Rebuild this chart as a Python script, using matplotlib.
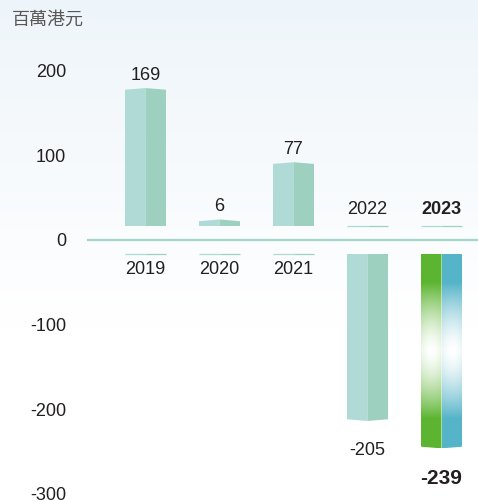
import numpy as np
import matplotlib.pyplot as plt
from matplotlib.patches import Polygon
from matplotlib.colors import to_rgb

# data
years = ['2019', '2020', '2021', '2022', '2023']
values = [169, 6, 77, -205, -239]
y_ticks = [200, 100, 0, -100, -200, -300]
unit = '百萬港元'

plt.rcParams['font.family'] = ['Liberation Sans', 'Noto Sans CJK TC', 'DejaVu Sans']

W, H = 478, 501
fig = plt.figure(figsize=(W / 100, H / 100), dpi=100)

# faint background wash
bg = fig.add_axes([0, 0, 1, 1])
t = np.linspace(0, 1, 200)[:, None]
top_c = np.array(to_rgb('#eef5fa'))
k = np.clip(t / 0.65, 0, 1)
grad = top_c * (1 - k[..., None]) + np.ones(3) * k[..., None]
bg.imshow(grad, aspect='auto', extent=[0, 1, 0, 1])
bg.set_axis_off()

px = 0.846          # pixels per unit on the axis
zero_px = 240
left_px = 87
ax = fig.add_axes([left_px / W, 0, 1 - left_px / W, 1])
ax.patch.set_alpha(0)
ax.set_ylim(-(H - zero_px) / px, zero_px / px)
step = 74
ax.set_xlim((left_px - 145.5) / step, (W - 145.5) / step)
for s in ax.spines.values():
    s.set_visible(False)
ax.set_xticks([])
ax.set_yticks(y_ticks)
ax.set_yticklabels([str(v) for v in y_ticks])
ax.tick_params(axis='y', length=0, pad=15, labelsize=13, labelcolor='#231f20')

ax.axhline(0, color='#a0d6c6', lw=1.6, zorder=2)

c_left, c_right = '#b0dad5', '#9dd0be'
w = 41 / step
off = 14 / px        # gap between zero line and bar base
scale = 0.953        # bar height per unit relative to axis
peak = 1.7 / px
txt = '#231f20'


def face_grad(color, n=300, m=40):
    # vertical fade to white in the middle, a little whiter toward the face centre
    c = np.array(to_rgb(color))
    pos = np.linspace(0, 1, n)[:, None]
    u = np.linspace(0, 1, m)[None, :]
    d = np.clip(np.abs(pos - 0.5) / 0.35, 0, 1)
    mix = (1 - d ** 1.5) * (1 - 0.12 * ((u - 0.5) / 0.5) ** 2)
    return c * (1 - mix[..., None]) + np.ones(3) * mix[..., None]


for i, (yr, v) in enumerate(zip(years, values)):
    sgn = 1 if v >= 0 else -1
    base = sgn * off
    end = base + v * scale
    tip = end + sgn * peak
    x0, xc, x1 = i - w / 2, i, i + w / 2
    left = Polygon([(x0, base), (xc, base), (xc, tip), (x0, end)], closed=True)
    right = Polygon([(xc, base), (x1, base), (x1, end), (xc, tip)], closed=True)
    last = i == len(years) - 1
    if last:
        for poly, col, a, b in [(left, '#5cb531', x0, xc), (right, '#55b4c8', xc, x1)]:
            poly.set_facecolor('none')
            poly.set_edgecolor('none')
            ax.add_patch(poly)
            im = ax.imshow(face_grad(col), aspect='auto',
                           extent=[a, b, min(base, tip), max(base, tip)], zorder=3)
            im.set_clip_path(poly)
    else:
        left.set_facecolor(c_left)
        right.set_facecolor(c_right)
        left.set_edgecolor('none')
        right.set_edgecolor('none')
        ax.add_patch(left)
        ax.add_patch(right)

    # thin mirror line on the other side of the zero line
    ax.plot([x0, xc], [-base, -base], color=c_left, lw=0.9, solid_capstyle='butt')
    ax.plot([xc, x1], [-base, -base], color=c_right, lw=0.9, solid_capstyle='butt')

    wt = 'bold' if last else 'normal'
    ax.text(i, -base - sgn * 16 / px, yr, ha='center', va='center',
            fontsize=13, color=txt, fontweight=wt)
    ax.text(i, tip + sgn * (13 if v >= 0 else 30) / px, str(v), ha='center', va='center',
            fontsize=15 if last else 13, color=txt, fontweight=wt)

fig.text(12 / W, 1 - 20 / H, unit, ha='left', va='center', fontsize=13,
         color='#595757', family=['Noto Sans CJK TC', 'DejaVu Sans'])

fig.savefig('out.png', dpi=100)
